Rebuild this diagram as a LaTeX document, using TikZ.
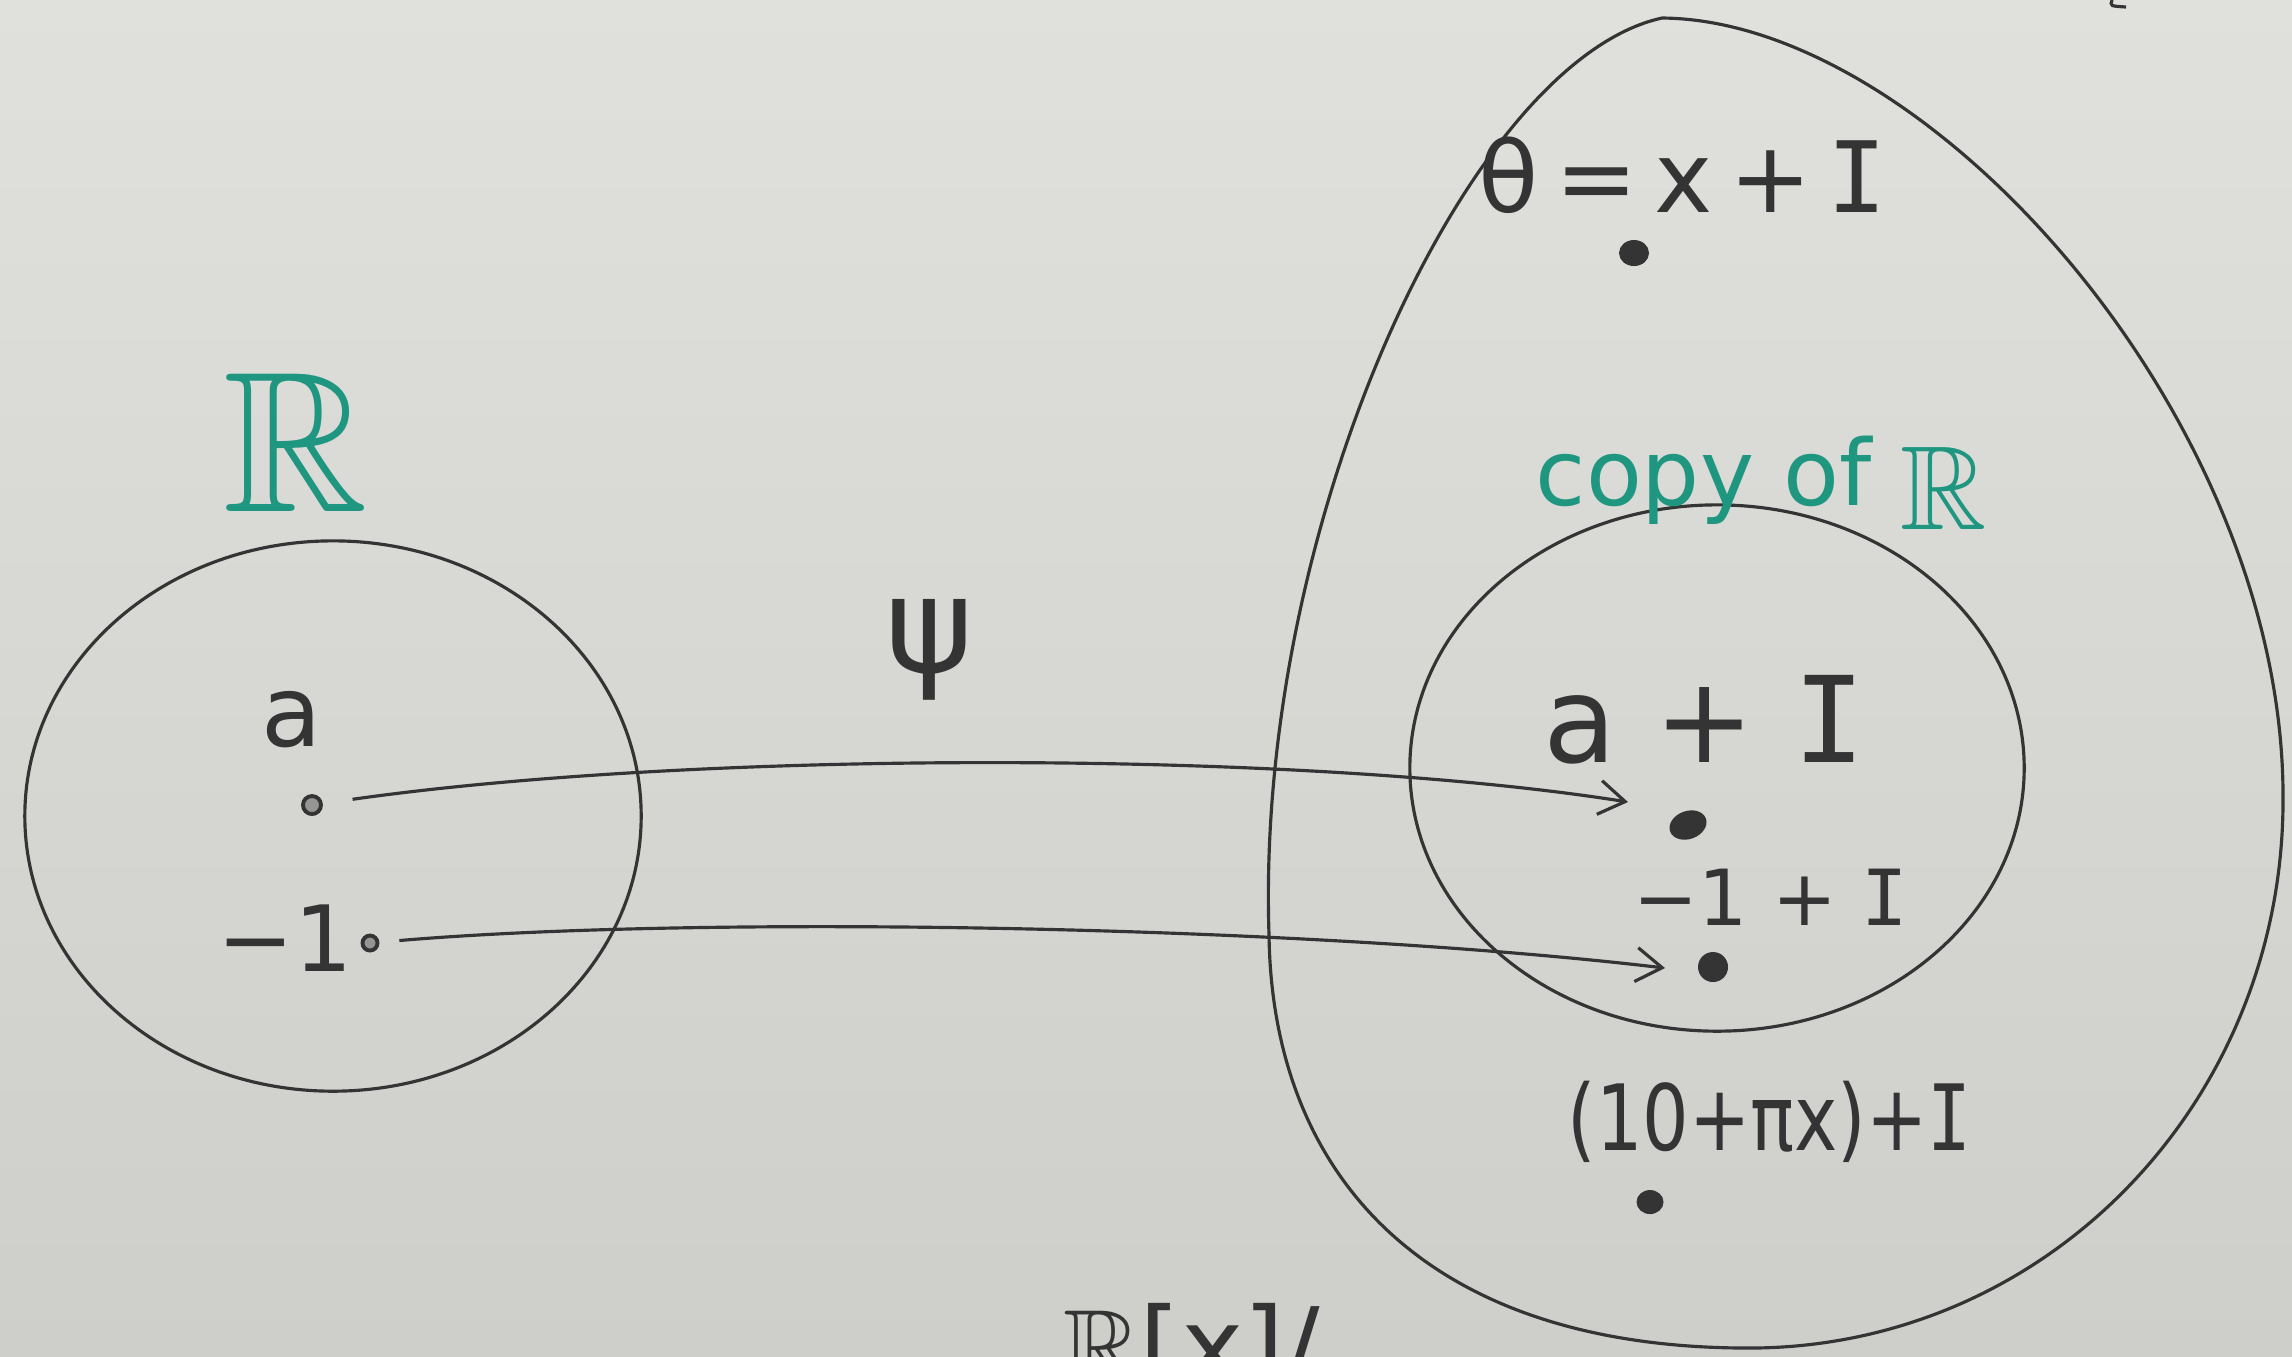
\documentclass[tikz,border=0pt]{standalone}
\usepackage{fontspec}
\usepackage{amssymb}
\usepackage{graphicx}
\setmainfont{DejaVu Sans}
\newfontfamily\monofont{DejaVu Sans Mono}
\usetikzlibrary{arrows.meta,shapes.geometric}
\definecolor{ink}{RGB}{52,52,52}
\definecolor{tealink}{RGB}{30,150,128}
\definecolor{boardtop}{RGB}{224,224,221}
\definecolor{boardbot}{RGB}{206,206,203}
\definecolor{board}{RGB}{214,214,211}
\newcommand{\Iid}{{\monofont I}}
\newcommand{\fs}[1]{\fontsize{#1}{#1}\selectfont}
\begin{document}
\begin{tikzpicture}[x=0.01cm,y=-0.01cm,
  inktext/.style={text=ink, inner sep=0pt},
  tealtext/.style={text=tealink, inner sep=0pt},
  dotfill/.style={fill=ink, inner sep=0pt},
  dotring/.style={circle, draw=ink, line width=1.1pt, fill=board!60!ink, inner sep=0pt},
  setline/.style={draw=ink, line width=0.9pt},
  maparrow/.style={draw=ink, line width=0.9pt, -{Straight Barb[length=2.6mm,width=3.4mm]}}]
\useasboundingbox (0,0) rectangle (2292,1356);
\clip (0,0) rectangle (2292,1356);
\shade[top color=boardtop, bottom color=boardbot] (0,0) rectangle (2292,1356);

% sets
\node[setline, ellipse, minimum width=6.16cm, minimum height=5.5cm, inner sep=0pt] (Rset) at (333,816) {};
\node[setline, ellipse, minimum width=6.14cm, minimum height=5.26cm, inner sep=0pt] (copyset) at (1717,768) {};
\draw[setline] (1662,18)
  .. controls (1470,60) and (1255,520) .. (1269,935)
  .. controls (1272,1170) and (1420,1350) .. (1754,1348)
  .. controls (2050,1345) and (2283,1100) .. (2283,800)
  .. controls (2285,420) and (1930,20) .. cycle;
\draw[setline] (2112,0) .. controls (2110,6) .. (2126,7);

% labels
\node[tealtext] (Rlabel) at (296,442) {\fs{57}$\mathbb{R}$};
\node[tealtext, anchor=base west] (copylabel) at (1535,505) {\fs{26}copy of \raisebox{-7pt}{\fs{34}$\mathbb{R}$}};
\node[inktext] (psilabel) at (930,650) {\fs{38}ψ};
\node[inktext] (alabel) at (292,720) {\fs{28}a};
\node[inktext] (mlabel) at (285,938) {\fs{26}−1};
\node[inktext, anchor=base west] (thlabel) at (1478,212) {\fs{28}θ\,=\,x\,+\,\Iid};
\node[inktext, anchor=base west] (aIlabel) at (1543,762) {\fs{34}a + \Iid};
\node[inktext, anchor=base west] (mIlabel) at (1633,925) {\fs{22}−1 + \Iid};
\node[inktext, anchor=base west] (plabel) at (1567,1150) {\scalebox{0.8}[1]{\fs{26}(10+πx)+\Iid}};
\node[inktext, anchor=base west] (quot) at (1063,1383) {\fs{30}$\mathbb{R}$[x]/};

% dots
\node[dotring, minimum size=0.18cm] (adot) at (312,805) {};
\node[dotring, minimum size=0.15cm] (mdot) at (370,943) {};
\node[dotfill, ellipse, minimum width=0.3cm, minimum height=0.26cm] (thdot) at (1634,253) {};
\node[dotfill, ellipse, minimum width=0.38cm, minimum height=0.28cm, rotate=20] (aIdot) at (1688,825) {};
\node[dotfill, circle, minimum size=0.3cm] (mIdot) at (1713,967) {};
\node[dotfill, ellipse, minimum width=0.27cm, minimum height=0.24cm] (pdot) at (1650,1202) {};

% map arrows
\coordinate (a1e) at (1628,802);
\coordinate (a2e) at (1665,968);
\draw[maparrow, shorten <=0.3cm] (adot) .. controls (700,750) and (1300,750) .. (a1e);
\draw[maparrow, shorten <=0.2cm] (mdot) .. controls (700,915) and (1300,925) .. (a2e);
\end{tikzpicture}
\end{document}
